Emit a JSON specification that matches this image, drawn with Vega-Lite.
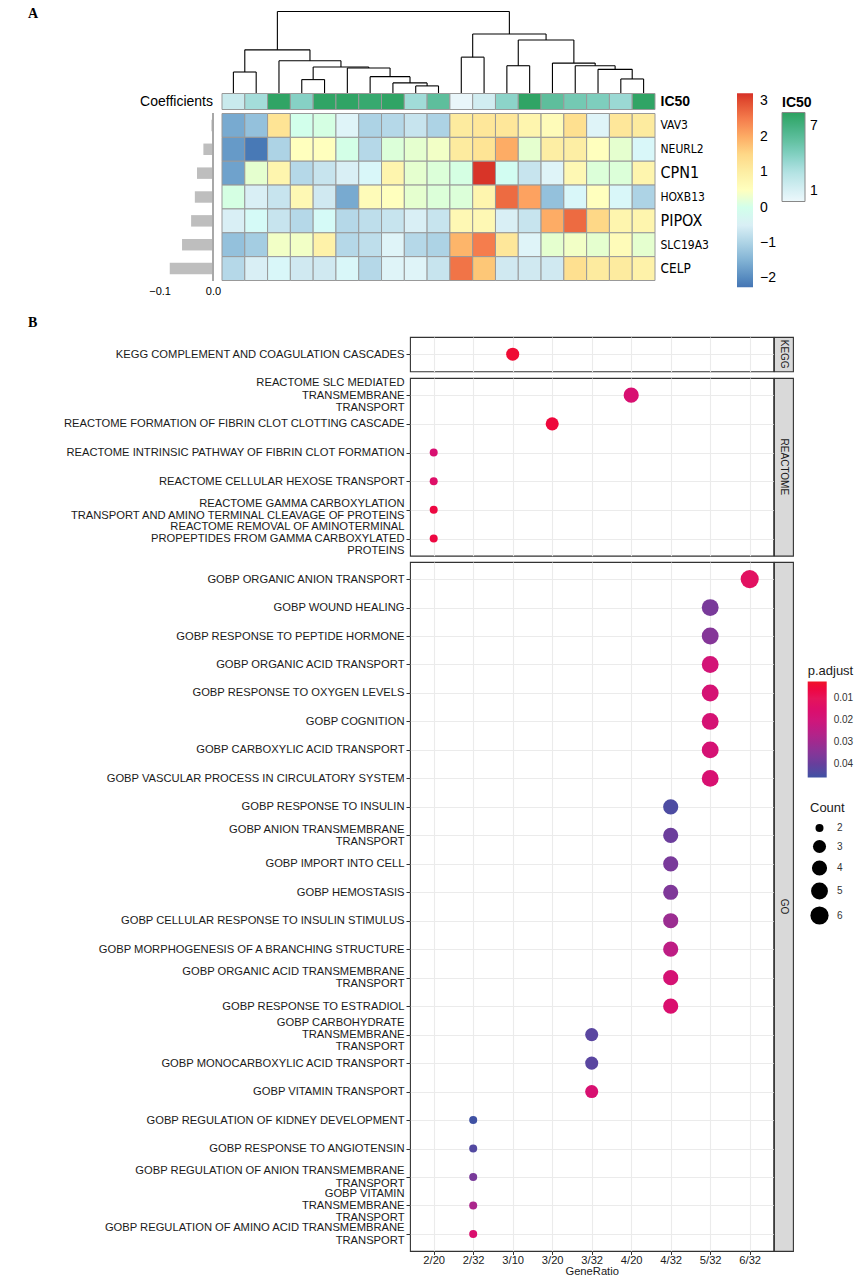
{
"$schema": "https://vega.github.io/schema/vega-lite/v6.json",
"autosize": {"type": "pad"},
"padding": {"left": 28, "top": 6.5, "right": 0, "bottom": 0},
"background": "white",
"config": {
  "view": {"stroke": null},
  "font": "Liberation Sans",
  "title": {"font": "Liberation Sans"},
  "axis": {"labelFont": "Liberation Sans", "titleFont": "Liberation Sans"},
  "legend": {"labelFont": "Liberation Sans", "titleFont": "Liberation Sans", "padding": 0}
},
"datasets": {
  "dendro": [
    {"x":1,"x2":2,"y":65,"y2":65},{"x":1,"x2":1,"y":0,"y2":65},{"x":2,"x2":2,"y":0,"y2":65},
    {"x":9,"x2":10,"y":23,"y2":23},{"x":9,"x2":9,"y":0,"y2":23},{"x":10,"x2":10,"y":0,"y2":23},
    {"x":8,"x2":9.5,"y":32,"y2":32},{"x":8,"x2":8,"y":0,"y2":32},{"x":9.5,"x2":9.5,"y":23,"y2":32},
    {"x":7,"x2":8.75,"y":51,"y2":51},{"x":7,"x2":7,"y":0,"y2":51},{"x":8.75,"x2":8.75,"y":32,"y2":51},
    {"x":6,"x2":7.875,"y":77,"y2":77},{"x":6,"x2":6,"y":0,"y2":77},{"x":7.875,"x2":7.875,"y":51,"y2":77},
    {"x":4,"x2":5,"y":42,"y2":42},{"x":4,"x2":4,"y":0,"y2":42},{"x":5,"x2":5,"y":0,"y2":42},
    {"x":4.5,"x2":6.94,"y":80,"y2":80},{"x":4.5,"x2":4.5,"y":42,"y2":80},{"x":6.94,"x2":6.94,"y":77,"y2":80},
    {"x":3,"x2":5.72,"y":99,"y2":99},{"x":3,"x2":3,"y":0,"y2":99},{"x":5.72,"x2":5.72,"y":80,"y2":99},
    {"x":1.5,"x2":4.36,"y":132,"y2":132},{"x":1.5,"x2":1.5,"y":65,"y2":132},{"x":4.36,"x2":4.36,"y":99,"y2":132},
    {"x":11,"x2":12,"y":110,"y2":110},{"x":11,"x2":11,"y":0,"y2":110},{"x":12,"x2":12,"y":0,"y2":110},
    {"x":13,"x2":14,"y":84,"y2":84},{"x":13,"x2":13,"y":0,"y2":84},{"x":14,"x2":14,"y":0,"y2":84},
    {"x":18,"x2":19,"y":44,"y2":44},{"x":18,"x2":18,"y":0,"y2":44},{"x":19,"x2":19,"y":0,"y2":44},
    {"x":17,"x2":18.5,"y":73,"y2":73},{"x":17,"x2":17,"y":0,"y2":73},{"x":18.5,"x2":18.5,"y":44,"y2":73},
    {"x":16,"x2":17.75,"y":84,"y2":84},{"x":16,"x2":16,"y":0,"y2":84},{"x":17.75,"x2":17.75,"y":73,"y2":84},
    {"x":15,"x2":16.875,"y":92,"y2":92},{"x":15,"x2":15,"y":0,"y2":92},{"x":16.875,"x2":16.875,"y":84,"y2":92},
    {"x":13.5,"x2":15.94,"y":162,"y2":162},{"x":13.5,"x2":13.5,"y":84,"y2":162},{"x":15.94,"x2":15.94,"y":92,"y2":162},
    {"x":11.5,"x2":14.72,"y":180,"y2":180},{"x":11.5,"x2":11.5,"y":110,"y2":180},{"x":14.72,"x2":14.72,"y":162,"y2":180},
    {"x":2.93,"x2":13.11,"y":248,"y2":248},{"x":2.93,"x2":2.93,"y":132,"y2":248},{"x":13.11,"x2":13.11,"y":180,"y2":248}
  ],
  "ann": [
    {"c":1,"ic50":1.7},{"c":2,"ic50":3.2},{"c":3,"ic50":8.0},{"c":4,"ic50":4.2},{"c":5,"ic50":8.0},
    {"c":6,"ic50":8.0},{"c":7,"ic50":7.6},{"c":8,"ic50":8.0},{"c":9,"ic50":3.3},{"c":10,"ic50":5.8},
    {"c":11,"ic50":0.2},{"c":12,"ic50":1.3},{"c":13,"ic50":4.0},{"c":14,"ic50":8.0},{"c":15,"ic50":5.8},
    {"c":16,"ic50":4.9},{"c":17,"ic50":4.5},{"c":18,"ic50":3.5},{"c":19,"ic50":8.0}
  ],
  "coef": [
    {"gene":"VAV3","coef":-0.003},{"gene":"NEURL2","coef":-0.018},{"gene":"CPN1","coef":-0.030},
    {"gene":"HOXB13","coef":-0.034},{"gene":"PIPOX","coef":-0.041},{"gene":"SLC19A3","coef":-0.058},
    {"gene":"CELP","coef":-0.081}
  ],
  "hm": [
    {"g":"VAV3","c":1,"v":-1.6},{"g":"VAV3","c":2,"v":-1.3},{"g":"VAV3","c":3,"v":1.3},{"g":"VAV3","c":4,"v":0.0},{"g":"VAV3","c":5,"v":0.1},{"g":"VAV3","c":6,"v":-0.4},{"g":"VAV3","c":7,"v":-1.0},{"g":"VAV3","c":8,"v":-0.9},{"g":"VAV3","c":9,"v":-0.7},{"g":"VAV3","c":10,"v":-1.0},{"g":"VAV3","c":11,"v":1.1},{"g":"VAV3","c":12,"v":1.2},{"g":"VAV3","c":13,"v":1.2},{"g":"VAV3","c":14,"v":0.8},{"g":"VAV3","c":15,"v":0.6},{"g":"VAV3","c":16,"v":1.4},{"g":"VAV3","c":17,"v":-0.4},{"g":"VAV3","c":18,"v":1.2},{"g":"VAV3","c":19,"v":1.1},
    {"g":"NEURL2","c":1,"v":-1.8},{"g":"NEURL2","c":2,"v":-2.2},{"g":"NEURL2","c":3,"v":-1.0},{"g":"NEURL2","c":4,"v":0.5},{"g":"NEURL2","c":5,"v":0.5},{"g":"NEURL2","c":6,"v":0.05},{"g":"NEURL2","c":7,"v":-0.9},{"g":"NEURL2","c":8,"v":0.2},{"g":"NEURL2","c":9,"v":0.3},{"g":"NEURL2","c":10,"v":0.4},{"g":"NEURL2","c":11,"v":1.1},{"g":"NEURL2","c":12,"v":1.3},{"g":"NEURL2","c":13,"v":2.0},{"g":"NEURL2","c":14,"v":0.3},{"g":"NEURL2","c":15,"v":1.0},{"g":"NEURL2","c":16,"v":1.0},{"g":"NEURL2","c":17,"v":0.5},{"g":"NEURL2","c":18,"v":0.3},{"g":"NEURL2","c":19,"v":-0.3},
    {"g":"CPN1","c":1,"v":-1.7},{"g":"CPN1","c":2,"v":0.3},{"g":"CPN1","c":3,"v":0.8},{"g":"CPN1","c":4,"v":-0.9},{"g":"CPN1","c":5,"v":-0.7},{"g":"CPN1","c":6,"v":-0.5},{"g":"CPN1","c":7,"v":-0.3},{"g":"CPN1","c":8,"v":0.8},{"g":"CPN1","c":9,"v":0.3},{"g":"CPN1","c":10,"v":0.2},{"g":"CPN1","c":11,"v":0.1},{"g":"CPN1","c":12,"v":3.2},{"g":"CPN1","c":13,"v":-0.1},{"g":"CPN1","c":14,"v":-0.7},{"g":"CPN1","c":15,"v":-0.4},{"g":"CPN1","c":16,"v":0.7},{"g":"CPN1","c":17,"v":0.2},{"g":"CPN1","c":18,"v":0.2},{"g":"CPN1","c":19,"v":0.8},
    {"g":"HOXB13","c":1,"v":0.1},{"g":"HOXB13","c":2,"v":-0.5},{"g":"HOXB13","c":3,"v":-0.7},{"g":"HOXB13","c":4,"v":0.7},{"g":"HOXB13","c":5,"v":-0.6},{"g":"HOXB13","c":6,"v":-1.6},{"g":"HOXB13","c":7,"v":0.6},{"g":"HOXB13","c":8,"v":0.5},{"g":"HOXB13","c":9,"v":0.3},{"g":"HOXB13","c":10,"v":0.2},{"g":"HOXB13","c":11,"v":0.2},{"g":"HOXB13","c":12,"v":0.8},{"g":"HOXB13","c":13,"v":2.7},{"g":"HOXB13","c":14,"v":2.1},{"g":"HOXB13","c":15,"v":-1.3},{"g":"HOXB13","c":16,"v":-0.3},{"g":"HOXB13","c":17,"v":0.5},{"g":"HOXB13","c":18,"v":-0.3},{"g":"HOXB13","c":19,"v":-1.0},
    {"g":"PIPOX","c":1,"v":-0.5},{"g":"PIPOX","c":2,"v":-0.2},{"g":"PIPOX","c":3,"v":-0.7},{"g":"PIPOX","c":4,"v":-0.9},{"g":"PIPOX","c":5,"v":-0.2},{"g":"PIPOX","c":6,"v":-0.9},{"g":"PIPOX","c":7,"v":-0.8},{"g":"PIPOX","c":8,"v":-0.7},{"g":"PIPOX","c":9,"v":-0.5},{"g":"PIPOX","c":10,"v":-0.7},{"g":"PIPOX","c":11,"v":0.7},{"g":"PIPOX","c":12,"v":0.7},{"g":"PIPOX","c":13,"v":-0.5},{"g":"PIPOX","c":14,"v":-0.7},{"g":"PIPOX","c":15,"v":2.0},{"g":"PIPOX","c":16,"v":2.7},{"g":"PIPOX","c":17,"v":1.5},{"g":"PIPOX","c":18,"v":0.8},{"g":"PIPOX","c":19,"v":0.8},
    {"g":"SLC19A3","c":1,"v":-1.3},{"g":"SLC19A3","c":2,"v":-1.1},{"g":"SLC19A3","c":3,"v":0.4},{"g":"SLC19A3","c":4,"v":0.4},{"g":"SLC19A3","c":5,"v":0.9},{"g":"SLC19A3","c":6,"v":-0.9},{"g":"SLC19A3","c":7,"v":-0.8},{"g":"SLC19A3","c":8,"v":-0.4},{"g":"SLC19A3","c":9,"v":-0.9},{"g":"SLC19A3","c":10,"v":-1.0},{"g":"SLC19A3","c":11,"v":1.9},{"g":"SLC19A3","c":12,"v":2.5},{"g":"SLC19A3","c":13,"v":1.2},{"g":"SLC19A3","c":14,"v":-0.4},{"g":"SLC19A3","c":15,"v":0.3},{"g":"SLC19A3","c":16,"v":0.4},{"g":"SLC19A3","c":17,"v":0.3},{"g":"SLC19A3","c":18,"v":0.6},{"g":"SLC19A3","c":19,"v":0.3},
    {"g":"CELP","c":1,"v":-0.9},{"g":"CELP","c":2,"v":-0.5},{"g":"CELP","c":3,"v":-0.3},{"g":"CELP","c":4,"v":-0.6},{"g":"CELP","c":5,"v":-0.6},{"g":"CELP","c":6,"v":-0.3},{"g":"CELP","c":7,"v":-0.9},{"g":"CELP","c":8,"v":-0.4},{"g":"CELP","c":9,"v":-0.4},{"g":"CELP","c":10,"v":-0.7},{"g":"CELP","c":11,"v":2.6},{"g":"CELP","c":12,"v":1.7},{"g":"CELP","c":13,"v":-0.6},{"g":"CELP","c":14,"v":-0.6},{"g":"CELP","c":15,"v":-0.6},{"g":"CELP","c":16,"v":1.4},{"g":"CELP","c":17,"v":1.1},{"g":"CELP","c":18,"v":1.1},{"g":"CELP","c":19,"v":0.9}
  ],
  "kegg": [
    {"term":"KEGG COMPLEMENT AND COAGULATION CASCADES","ratio":"3/10","padj":0.004,"count":3}
  ],
  "reactome": [
    {"term":"REACTOME SLC MEDIATED|TRANSMEMBRANE|TRANSPORT","ratio":"4/20","padj":0.017,"count":4},
    {"term":"REACTOME FORMATION OF FIBRIN CLOT CLOTTING CASCADE","ratio":"3/20","padj":0.005,"count":3},
    {"term":"REACTOME INTRINSIC PATHWAY OF FIBRIN CLOT FORMATION","ratio":"2/20","padj":0.017,"count":2},
    {"term":"REACTOME CELLULAR HEXOSE TRANSPORT","ratio":"2/20","padj":0.014,"count":2},
    {"term":"REACTOME GAMMA CARBOXYLATION|TRANSPORT AND AMINO TERMINAL CLEAVAGE OF PROTEINS","ratio":"2/20","padj":0.006,"count":2},
    {"term":"REACTOME REMOVAL OF AMINOTERMINAL|PROPEPTIDES FROM GAMMA CARBOXYLATED|PROTEINS","ratio":"2/20","padj":0.006,"count":2}
  ],
  "go": [
    {"term":"GOBP ORGANIC ANION TRANSPORT","ratio":"6/32","padj":0.012,"count":6},
    {"term":"GOBP WOUND HEALING","ratio":"5/32","padj":0.037,"count":5},
    {"term":"GOBP RESPONSE TO PEPTIDE HORMONE","ratio":"5/32","padj":0.035,"count":5},
    {"term":"GOBP ORGANIC ACID TRANSPORT","ratio":"5/32","padj":0.019,"count":5},
    {"term":"GOBP RESPONSE TO OXYGEN LEVELS","ratio":"5/32","padj":0.018,"count":5},
    {"term":"GOBP COGNITION","ratio":"5/32","padj":0.018,"count":5},
    {"term":"GOBP CARBOXYLIC ACID TRANSPORT","ratio":"5/32","padj":0.018,"count":5},
    {"term":"GOBP VASCULAR PROCESS IN CIRCULATORY SYSTEM","ratio":"5/32","padj":0.017,"count":5},
    {"term":"GOBP RESPONSE TO INSULIN","ratio":"4/32","padj":0.044,"count":4},
    {"term":"GOBP ANION TRANSMEMBRANE|TRANSPORT","ratio":"4/32","padj":0.039,"count":4},
    {"term":"GOBP IMPORT INTO CELL","ratio":"4/32","padj":0.037,"count":4},
    {"term":"GOBP HEMOSTASIS","ratio":"4/32","padj":0.036,"count":4},
    {"term":"GOBP CELLULAR RESPONSE TO INSULIN STIMULUS","ratio":"4/32","padj":0.031,"count":4},
    {"term":"GOBP MORPHOGENESIS OF A BRANCHING STRUCTURE","ratio":"4/32","padj":0.024,"count":4},
    {"term":"GOBP ORGANIC ACID TRANSMEMBRANE|TRANSPORT","ratio":"4/32","padj":0.018,"count":4},
    {"term":"GOBP RESPONSE TO ESTRADIOL","ratio":"4/32","padj":0.016,"count":4},
    {"term":"GOBP CARBOHYDRATE|TRANSMEMBRANE|TRANSPORT","ratio":"3/32","padj":0.042,"count":3},
    {"term":"GOBP MONOCARBOXYLIC ACID TRANSPORT","ratio":"3/32","padj":0.042,"count":3},
    {"term":"GOBP VITAMIN TRANSPORT","ratio":"3/32","padj":0.017,"count":3},
    {"term":"GOBP REGULATION OF KIDNEY DEVELOPMENT","ratio":"2/32","padj":0.046,"count":2},
    {"term":"GOBP RESPONSE TO ANGIOTENSIN","ratio":"2/32","padj":0.043,"count":2},
    {"term":"GOBP REGULATION OF ANION TRANSMEMBRANE|TRANSPORT","ratio":"2/32","padj":0.037,"count":2},
    {"term":"GOBP VITAMIN|TRANSMEMBRANE|TRANSPORT","ratio":"2/32","padj":0.028,"count":2},
    {"term":"GOBP REGULATION OF AMINO ACID TRANSMEMBRANE|TRANSPORT","ratio":"2/32","padj":0.016,"count":2}
  ]
},
"spacing": 18.5,
"resolve": {"scale": {"color": "independent", "size": "independent"}},
"vconcat": [
  {
    "bounds": "flush",
    "align": "each",
    "columns": 2,
    "spacing": {"row": 0, "column": 9},
    "resolve": {"scale": {"color": "independent", "x": "independent", "y": "independent"}},
    "concat": [
      {
        "width": 63, "height": 82,
        "data": {"values": []},
        "mark": "point",
        "title": {"text": "A", "anchor": "start", "orient": "top", "offset": 0, "dx": -122, "dy": 20, "baseline": "alphabetic", "font": "Liberation Serif", "fontSize": 14, "fontWeight": "bold", "color": "#000"}
      },
      {
        "width": 433, "height": 82,
        "data": {"name": "dendro"},
        "mark": {"type": "rule", "color": "#000", "strokeWidth": 1.1},
        "encoding": {
          "x": {"field": "x", "type": "quantitative", "scale": {"domain": [0.5, 19.5], "nice": false, "zero": false}, "axis": null},
          "x2": {"field": "x2"},
          "y": {"field": "y", "type": "quantitative", "scale": {"domain": [0, 248], "nice": false}, "axis": null},
          "y2": {"field": "y2"}
        }
      },
      {
        "width": 63, "height": 16,
        "data": {"values": [{"label": "Coefficients"}]},
        "mark": {"type": "text", "align": "right", "baseline": "middle", "fontSize": 14, "color": "#000"},
        "encoding": {
          "text": {"field": "label"},
          "x": {"datum": 1, "type": "quantitative", "scale": {"domain": [0, 1]}, "axis": null}
        }
      },
      {
        "width": 433, "height": 16,
        "data": {"name": "ann"},
        "mark": {"type": "rect", "stroke": "#999999", "strokeWidth": 1},
        "encoding": {
          "x": {"field": "c", "type": "ordinal", "axis": null},
          "y": {"datum": "IC50", "type": "nominal", "axis": {"orient": "right", "title": null, "ticks": false, "domain": false, "labelPadding": 5, "labelFontSize": 14, "labelFontWeight": "bold", "labelColor": "#000"}},
          "color": {"field": "ic50", "type": "quantitative",
            "scale": {"domain": [0, 8.2], "range": ["#edf8fb", "#b2e2e2", "#66c2a4", "#2ca25f"]},
            "legend": {"orient": "none", "legendX": 560, "legendY": 2, "title": "IC50", "titleFontSize": 14, "titleFontWeight": "bold", "titleColor": "#000", "titlePadding": 3, "gradientLength": 89, "gradientThickness": 23, "gradientStrokeColor": "#888", "gradientStrokeWidth": 1, "values": [1, 7], "labelFontSize": 14, "labelColor": "#000", "labelOffset": 5, "direction": "vertical"}}
        }
      },
      {"width": 63, "height": 4, "data": {"values": []}, "mark": "point"},
      {"width": 433, "height": 4, "data": {"values": []}, "mark": "point"},
      {
        "width": 63, "height": 167,
        "data": {"name": "coef"},
        "layer": [
          {
            "mark": {"type": "bar", "color": "#bebebe"},
            "encoding": {
              "y": {"field": "gene", "type": "nominal", "sort": null, "axis": null, "scale": {"paddingInner": 0.52, "paddingOuter": 0.26}},
              "x": {"field": "coef", "type": "quantitative", "scale": {"domain": [-0.118, 0], "nice": false},
                    "axis": {"values": [-0.1, 0], "format": ".1f", "title": null, "grid": false, "domain": false, "ticks": false, "tickSize": 0, "labelFlush": false, "labelPadding": 5, "labelFontSize": 11, "labelColor": "#000"}}
            }
          },
          {
            "mark": {"type": "rule", "color": "#a8a8a8", "strokeWidth": 2},
            "encoding": {"x": {"datum": 0, "type": "quantitative"}}
          }
        ]
      },
      {
        "width": 433, "height": 167,
        "data": {"name": "hm"},
        "mark": {"type": "rect", "stroke": "#999999", "strokeWidth": 1},
        "encoding": {
          "x": {"field": "c", "type": "ordinal", "axis": null},
          "y": {"field": "g", "type": "nominal", "sort": ["VAV3", "NEURL2", "CPN1", "HOXB13", "PIPOX", "SLC19A3", "CELP"],
                "axis": {"orient": "right", "title": null, "ticks": false, "domain": false, "labelPadding": 5, "labelColor": "#000",
                         "labelFont": "Liberation Sans Narrow, DejaVu Sans Condensed, Liberation Sans",
                         "labelFontSize": {"condition": [{"test": "datum.value === 'CPN1' || datum.value === 'PIPOX'", "value": 16}, {"test": "datum.value === 'CELP'", "value": 13.5}], "value": 12}}},
          "color": {"field": "v", "type": "quantitative",
            "scale": {"domain": [-2.25, -1.34, -0.42, 0.49, 1.40, 2.32, 3.23], "range": ["#4575b4", "#91bfdb", "#e0f3f8", "#ffffbf", "#fee090", "#fc8d59", "#d73027"]},
            "legend": {"orient": "none", "legendX": 515, "legendY": -20.3, "title": null, "gradientLength": 194, "gradientThickness": 16, "gradientStrokeWidth": 0, "values": [-2, -1, 0, 1, 2, 3], "labelFontSize": 14, "labelColor": "#000", "labelOffset": 7, "direction": "vertical"}}
        }
      }
    ]
  },
  {
    "bounds": "flush",
    "align": "each",
    "columns": 3,
    "spacing": {"row": 6, "column": 0},
    "resolve": {"scale": {"color": "independent", "size": "independent", "x": "independent", "y": "independent"}},
    "concat": [
      {
        "width": 259.3, "height": 34.4,
        "data": {"values": []},
        "mark": "point",
        "title": {"text": "B", "anchor": "start", "orient": "top", "offset": 0, "dx": -122, "dy": 3.9, "baseline": "alphabetic", "font": "Liberation Serif", "fontSize": 14, "fontWeight": "bold", "color": "#000"}
      },
      {
        "width": 363.4, "height": 34.4,
        "data": {"name": "kegg"},
        "view": {"stroke": "#333333", "strokeWidth": 1.1},
        "mark": {"type": "circle", "opacity": 1},
        "encoding": {
          "x": {"field": "ratio", "type": "ordinal", "scale": {"type": "point", "padding": 0.6, "domain": ["2/20", "2/32", "3/10", "3/20", "3/32", "4/20", "4/32", "5/32", "6/32"]},
                "axis": {"title": null, "labels": false, "ticks": false, "domain": false, "grid": true, "gridColor": "#ebebeb", "gridWidth": 1.1}},
          "y": {"field": "term", "type": "nominal", "sort": null, "scale": {"type": "point", "padding": 0.6},
                "axis": {"title": null, "domain": false, "grid": true, "gridColor": "#ebebeb", "gridWidth": 1.1, "tickSize": 4, "tickColor": "#333333", "labelPadding": 2, "labelFontSize": 11.2, "labelColor": "#1a1a1a", "labelLimit": 500, "labelOverlap": false, "labelLineHeight": 12.3, "labelExpr": "split(datum.value, '|')",
                         "labelOffset": {"condition": [{"test": "length(split(datum.value, '|')) === 3", "value": -12.3}, {"test": "length(split(datum.value, '|')) === 2", "value": -6.15}], "value": 0}}},
          "color": {"field": "padj", "type": "quantitative", "scale": {"domain": [0.046, 0.04, 0.03, 0.02, 0.01, 0.0023], "range": ["#3f51a3", "#663f9c", "#a02a8f", "#d0167a", "#e5155a", "#f01428"]}, "legend": null},
          "size": {"field": "count", "type": "quantitative", "scale": {"domain": [2, 3, 4, 5, 6], "range": [64, 171, 230, 284, 330]}, "legend": null}
        }
      },
      {
        "width": 19, "height": 34.4,
        "data": {"values": [{"db": "KEGG"}]},
        "view": {"fill": "#d9d9d9", "stroke": "#333333", "strokeWidth": 1.1},
        "mark": {"type": "text", "angle": 90, "fontSize": 10, "color": "#1a1a1a", "align": "center", "baseline": "middle"},
        "encoding": {"text": {"field": "db"}}
      },
      {"width": 259.3, "height": 1, "data": {"values": []}, "mark": "point"},
      {
        "width": 363.4, "height": 177.7,
        "data": {"name": "reactome"},
        "view": {"stroke": "#333333", "strokeWidth": 1.1},
        "mark": {"type": "circle", "opacity": 1},
        "encoding": {
          "x": {"field": "ratio", "type": "ordinal", "scale": {"type": "point", "padding": 0.6, "domain": ["2/20", "2/32", "3/10", "3/20", "3/32", "4/20", "4/32", "5/32", "6/32"]},
                "axis": {"title": null, "labels": false, "ticks": false, "domain": false, "grid": true, "gridColor": "#ebebeb", "gridWidth": 1.1}},
          "y": {"field": "term", "type": "nominal", "sort": null, "scale": {"type": "point", "padding": 0.6},
                "axis": {"title": null, "domain": false, "grid": true, "gridColor": "#ebebeb", "gridWidth": 1.1, "tickSize": 4, "tickColor": "#333333", "labelPadding": 2, "labelFontSize": 11.2, "labelColor": "#1a1a1a", "labelLimit": 500, "labelOverlap": false, "labelLineHeight": 12.3, "labelExpr": "split(datum.value, '|')",
                         "labelOffset": {"condition": [{"test": "length(split(datum.value, '|')) === 3", "value": -12.3}, {"test": "length(split(datum.value, '|')) === 2", "value": -6.15}], "value": 0}}},
          "color": {"field": "padj", "type": "quantitative", "scale": {"domain": [0.046, 0.04, 0.03, 0.02, 0.01, 0.0023], "range": ["#3f51a3", "#663f9c", "#a02a8f", "#d0167a", "#e5155a", "#f01428"]}, "legend": null},
          "size": {"field": "count", "type": "quantitative", "scale": {"domain": [2, 3, 4, 5, 6], "range": [64, 171, 230, 284, 330]}, "legend": null}
        }
      },
      {
        "width": 19, "height": 177.7,
        "data": {"values": [{"db": "REACTOME"}]},
        "view": {"fill": "#d9d9d9", "stroke": "#333333", "strokeWidth": 1.1},
        "mark": {"type": "text", "angle": 90, "fontSize": 10, "color": "#1a1a1a", "align": "center", "baseline": "middle"},
        "encoding": {"text": {"field": "db"}}
      },
      {"width": 259.3, "height": 1, "data": {"values": []}, "mark": "point"},
      {
        "width": 363.4, "height": 689,
        "data": {"name": "go"},
        "view": {"stroke": "#333333", "strokeWidth": 1.1},
        "mark": {"type": "circle", "opacity": 1},
        "encoding": {
          "x": {"field": "ratio", "type": "ordinal", "scale": {"type": "point", "padding": 0.6, "domain": ["2/20", "2/32", "3/10", "3/20", "3/32", "4/20", "4/32", "5/32", "6/32"]},
                "axis": {"title": "GeneRatio", "titleFontSize": 11.2, "titleFontWeight": "normal", "titleColor": "#1a1a1a", "titlePadding": 0, "labelAngle": 0, "labelFontSize": 11.2, "labelColor": "#1a1a1a", "labelPadding": 0, "tickSize": 3.5, "tickColor": "#333333", "domain": false, "grid": true, "gridColor": "#ebebeb", "gridWidth": 1.1}},
          "y": {"field": "term", "type": "nominal", "sort": null, "scale": {"type": "point", "padding": 0.6},
                "axis": {"title": null, "domain": false, "grid": true, "gridColor": "#ebebeb", "gridWidth": 1.1, "tickSize": 4, "tickColor": "#333333", "labelPadding": 2, "labelFontSize": 11.2, "labelColor": "#1a1a1a", "labelLimit": 500, "labelOverlap": false, "labelLineHeight": 12.3, "labelExpr": "split(datum.value, '|')",
                         "labelOffset": {"condition": [{"test": "length(split(datum.value, '|')) === 3", "value": -12.3}, {"test": "length(split(datum.value, '|')) === 2", "value": -6.15}], "value": 0}}},
          "color": {"field": "padj", "type": "quantitative", "scale": {"domain": [0.046, 0.04, 0.03, 0.02, 0.01, 0.0023], "range": ["#3f51a3", "#663f9c", "#a02a8f", "#d0167a", "#e5155a", "#f01428"]},
            "legend": {"orient": "none", "legendX": 397.7, "legendY": 102.5, "title": "p.adjust", "titleFontSize": 13, "titleFontWeight": "normal", "titleColor": "#1a1a1a", "titlePadding": 4, "gradientLength": 96, "gradientThickness": 19, "gradientStrokeWidth": 0, "values": [0.01, 0.02, 0.03, 0.04], "format": ".2f", "labelFontSize": 10, "labelColor": "#333333", "labelOffset": 7, "direction": "vertical"}},
          "size": {"field": "count", "type": "quantitative", "scale": {"domain": [2, 3, 4, 5, 6], "range": [64, 171, 230, 284, 330]},
            "legend": {"orient": "none", "legendX": 400, "legendY": 240, "title": "Count", "titleFontSize": 13, "titleFontWeight": "normal", "titleColor": "#1a1a1a", "titlePadding": 8, "values": [2, 3, 4, 5, 6], "symbolType": "circle", "symbolFillColor": "#000", "symbolStrokeColor": "#000", "symbolStrokeWidth": 0, "symbolOpacity": 1, "labelFontSize": 10, "labelColor": "#333333", "labelOffset": 8, "rowPadding": 6.5}}
        }
      },
      {
        "width": 19, "height": 689,
        "data": {"values": [{"db": "GO"}]},
        "view": {"fill": "#d9d9d9", "stroke": "#333333", "strokeWidth": 1.1},
        "mark": {"type": "text", "angle": 90, "fontSize": 10, "color": "#1a1a1a", "align": "center", "baseline": "middle"},
        "encoding": {"text": {"field": "db"}}
      }
    ]
  }
]
}
